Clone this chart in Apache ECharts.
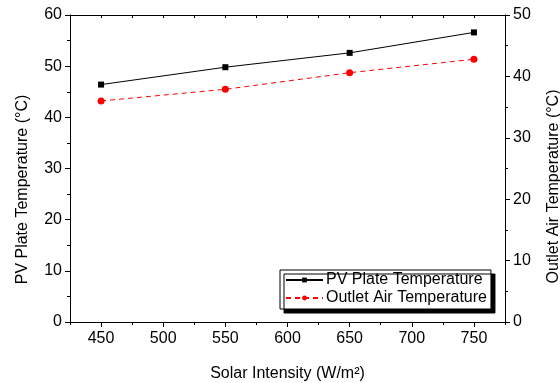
<!DOCTYPE html>
<html>
<head>
<meta charset="utf-8">
<script src="https://cdn.jsdelivr.net/npm/echarts@6/dist/echarts.min.js"></script>
<style>
  html, body { margin: 0; padding: 0; background: #fff; }
  #chart { width: 560px; height: 383px; }
</style>
</head>
<body>
<div id="chart"></div>
<script>
const solarIntensity = [450, 550, 650, 750]
const pvPlateTemp = [46.4, 49.8, 52.6, 56.6]
const outletAirTemp = [36.0, 37.9, 40.6, 42.8]

const font = 'Liberation Sans, Arial, sans-serif'
const chart = echarts.init(document.getElementById('chart'))

const option = {
  backgroundColor: '#fff',
  animation: false,
  textStyle: { fontFamily: font, color: '#000' },
  grid: { left: 70, right: 55, top: 15, bottom: 61, containLabel: false, outerBoundsMode: 'none' },
  legend: {
    orient: 'vertical',
    left: 280,
    top: 270,
    padding: [2, 4, 3, 5],
    itemGap: 2,
    itemWidth: 37,
    itemHeight: 6,
    backgroundColor: '#fff',
    borderColor: '#000',
    borderWidth: 1,
    shadowColor: '#000',
    shadowBlur: 0,
    shadowOffsetX: 4,
    shadowOffsetY: 4,
    textStyle: { fontFamily: font, fontSize: 16, color: '#000', padding: [0, 0, 0, -2] },
    data: ['PV Plate Temperature', 'Outlet Air Temperature'],
  },
  xAxis: [
    {
      type: 'value',
      min: 425,
      max: 775,
      minInterval: 50,
      maxInterval: 50,
      name: 'Solar Intensity (W/m²)',
      nameLocation: 'middle',
      nameGap: 44,
      nameTextStyle: { fontFamily: font, fontSize: 16, color: '#000' },
      axisLine: { show: true, lineStyle: { color: '#000', width: 1 } },
      axisTick: { show: true, length: 5, lineStyle: { color: '#000' } },
      axisLabel: { fontFamily: font, fontSize: 16, color: '#000', margin: 9, showMinLabel: false, showMaxLabel: false },
      splitLine: { show: false },
    },
    {
      // minor ticks, bottom
      type: 'value',
      position: 'bottom',
      min: 425,
      max: 775,
      interval: 25,
      axisLine: { show: false },
      axisTick: { show: true, length: 3, lineStyle: { color: '#000' } },
      axisLabel: { show: false },
      splitLine: { show: false },
    },
    {
      // top frame with inward ticks
      type: 'value',
      position: 'top',
      min: 425,
      max: 775,
      interval: 25,
      axisLine: { show: true, lineStyle: { color: '#000', width: 1 } },
      axisTick: { show: true, inside: true, length: 3, lineStyle: { color: '#000' } },
      axisLabel: { show: false },
      splitLine: { show: false },
    },
  ],
  yAxis: [
    {
      type: 'value',
      min: 0,
      max: 60,
      interval: 10,
      name: 'PV Plate Temperature (°C)',
      nameLocation: 'middle',
      nameRotate: 90,
      nameGap: 39,
      nameTextStyle: { fontFamily: font, fontSize: 16, color: '#000', padding: [0, 42, 0, 0] },
      axisLine: { show: true, lineStyle: { color: '#000', width: 1 } },
      axisTick: { show: true, length: 5, lineStyle: { color: '#000' } },
      minorTick: { show: true, splitNumber: 2, length: 3, lineStyle: { color: '#000' } },
      axisLabel: { fontFamily: font, fontSize: 16, color: '#000', margin: 8 },
      splitLine: { show: false },
    },
    {
      type: 'value',
      min: 0,
      max: 50,
      interval: 10,
      name: 'Outlet Air Temperature (°C)',
      nameLocation: 'middle',
      nameRotate: 90,
      nameGap: 41,
      nameTextStyle: { fontFamily: font, fontSize: 16, color: '#000', padding: [0, 36, 0, 0] },
      axisLine: { show: true, lineStyle: { color: '#000', width: 1 } },
      axisTick: { show: true, length: 5, lineStyle: { color: '#000' } },
      minorTick: { show: true, splitNumber: 2, length: 3, lineStyle: { color: '#000' } },
      axisLabel: { fontFamily: font, fontSize: 16, color: '#000', margin: 8 },
      splitLine: { show: false },
    },
  ],
  series: [
    {
      name: 'PV Plate Temperature',
      type: 'line',
      yAxisIndex: 0,
      data: solarIntensity.map((x, i) => [x, pvPlateTemp[i]]),
      symbol: 'rect',
      symbolSize: 6,
      itemStyle: { color: '#000' },
      lineStyle: { color: '#000', width: 1 },
    },
    {
      name: 'Outlet Air Temperature',
      type: 'line',
      yAxisIndex: 1,
      data: solarIntensity.map((x, i) => [x, outletAirTemp[i]]),
      symbol: 'circle',
      symbolSize: 7,
      itemStyle: { color: '#ff0000' },
      lineStyle: { color: '#ff0000', width: 1, type: [5, 4] },
    },
  ],
}

chart.setOption(option)
</script>
</body>
</html>
